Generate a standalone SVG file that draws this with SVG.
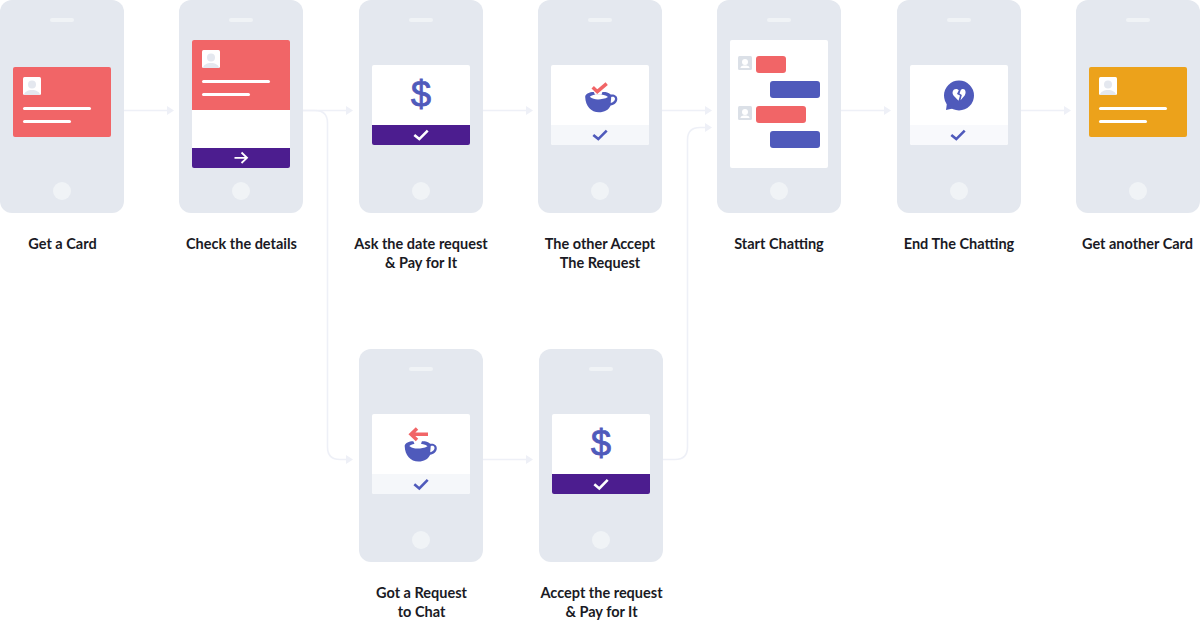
<svg xmlns="http://www.w3.org/2000/svg" width="1200" height="621" viewBox="0 0 1200 621">
<style>
.body{fill:#e4e8ef}.det{fill:#f0f3f6}.scr{fill:#fff}.red{fill:#f16567}.blue{fill:#4f5abb}.pur{fill:#4c1d8f}.lite{fill:#f5f7fa}.org{fill:#eca21b}
.bar{fill:#fff}.ck{fill:none;stroke:#4f5abb;stroke-width:2.6}.ckw{fill:none;stroke:#fff;stroke-width:2.6}.arw{fill:none;stroke:#fff;stroke-width:1.8}
.lbl{font-family:Lato,"Liberation Sans",sans-serif;font-size:14.5px;font-weight:700;fill:#1a1a24;text-anchor:middle}
.dol{font-family:"Liberation Sans",Arial,sans-serif;font-size:36px;font-weight:400;fill:#4f5abb;stroke:#4f5abb;stroke-width:.9;text-anchor:middle}
.con{fill:none;stroke:#eef0f7;stroke-width:1.6}
.rs{fill:none;stroke:#f16567;stroke-width:3.5}
</style>
<defs>
<marker id="ah" markerUnits="userSpaceOnUse" markerWidth="7" markerHeight="9" refX="0" refY="4.5" orient="auto"><path d="M0,0L7,4.5L0,9Z" fill="#eef0f7"/></marker>
<g id="phone"><rect class="body" width="124" height="213" rx="12"/><rect class="det" x="50" y="18" width="24" height="4" rx="2"/><circle class="det" cx="62" cy="191" r="9"/></g>
<g id="ava"><rect fill="#fff" width="18" height="18" rx="1.5"/><circle cx="9" cy="7.5" r="4" fill="#e4e8ef"/><path d="M1,18C1,15 5,13 9,13C13,13 17,15 17,18Z" fill="#e4e8ef"/></g>
<g id="ava2"><rect fill="#dbe0e7" width="14" height="14" rx="1.5"/><circle cx="7" cy="6" r="3" fill="#fff"/><path d="M2.5,12C2.5,10 5,9.5 7,9.5C9,9.5 11.5,10 11.5,12Z" fill="#fff"/></g>
<g id="cup"><path class="blue" d="M585.2,97C585.5,106 591,112.300 599,112.300C604.500,112.300 608.500,110 610.700,105.500C614,105 617.300,102.500 617.300,99C617.300,95.500 614,94 610.700,94.600C608.500,92.500 606,92 603.500,92L592,92C588,92.500 585.2,94.500 585.200,97Z"/><path fill="#fff" d="M589.800,96.800C591.500,95.200 594.500,94.600 598,94.600C602,94.600 606,95.200 608,97C605,98.800 601,99.400 598,99.400C595,99.400 592,98.800 589.800,96.800Z"/><path fill="#fff" d="M593,90L603,90L601.500,94.800L595,94.800Z"/><path fill="#fff" d="M611.200,97C612.500,96.300 615,96.500 615,98.800C615,100.800 612.500,102.700 610.700,103Z"/></g>
<path id="chk" d="M-6.7,0.2L-1.7,4.4L6.7,-4.1"/>
</defs>

<g id="connectors">
<path class="con" marker-end="url(#ah)" d="M124,110.500H167"/>
<path class="con" marker-end="url(#ah)" d="M303,110.500H346"/>
<path class="con" marker-end="url(#ah)" d="M483,110.500H526"/>
<path class="con" marker-end="url(#ah)" d="M662,110.500H705"/>
<path class="con" marker-end="url(#ah)" d="M841,110.500H884"/>
<path class="con" marker-end="url(#ah)" d="M1021,110.500H1064"/>
<path class="con" marker-end="url(#ah)" d="M483,459.500H526"/>
<path class="con" marker-end="url(#ah)" d="M303,110.500H315Q327.500,110.500 327.500,123V447Q327.500,459.500 340,459.500H346"/>
<path class="con" marker-end="url(#ah)" d="M663,459.500H675Q687.500,459.500 687.500,447V140Q687.500,127.500 700,127.500H705"/>
</g>

<g id="node-get-card">
<use href="#phone"/>
<rect class="red" x="13" y="67" width="98" height="70" rx="2"/>
<use href="#ava" x="23" y="77"/>
<rect class="bar" x="23" y="107" width="68" height="3" rx="1.5"/><rect class="bar" x="23" y="120" width="48" height="3" rx="1.5"/>
<text class="lbl" x="62.500" y="249">Get a Card</text>
</g>

<g id="node-check-details">
<use href="#phone" x="179"/>
<rect class="scr" x="192" y="40" width="98" height="128" rx="2"/>
<path class="red" d="M194,40H288A2,2 0 0 1 290,42V110H192V42A2,2 0 0 1 194,40Z"/>
<path class="pur" d="M192,148H290V166A2,2 0 0 1 288,168H194A2,2 0 0 1 192,166Z"/>
<use href="#ava" x="202" y="50"/>
<rect class="bar" x="202" y="80" width="68" height="3" rx="1.5"/><rect class="bar" x="202" y="93" width="48" height="3" rx="1.5"/>
<path class="arw" d="M234.500,157.800H247M241.500,152.500L247,157.800L241.500,163"/>
<text class="lbl" x="241.500" y="249">Check the details</text>
</g>

<g id="node-ask-date">
<use href="#phone" x="359"/>
<rect class="scr" x="372" y="65" width="98" height="80" rx="2"/>
<path class="pur" d="M372,125H470V143A2,2 0 0 1 468,145H374A2,2 0 0 1 372,143Z"/>
<text class="dol" x="421" y="107">$</text>
<use href="#chk" class="ckw" x="421" y="134.700"/>
<text class="lbl" x="421" y="249">Ask the date request</text>
<text class="lbl" x="421" y="268">&amp; Pay for It</text>
</g>

<g id="node-other-accept">
<use href="#phone" x="538"/>
<rect class="scr" x="551" y="65" width="98" height="80" rx="2"/>
<path class="lite" d="M551,125H649V143A2,2 0 0 1 647,145H553A2,2 0 0 1 551,143Z"/>
<use href="#cup"/>
<path class="rs" d="M592.700,87.300L597.300,91.700L606.700,83.700"/>
<use href="#chk" class="ck" x="600" y="134.700"/>
<text class="lbl" x="600" y="249">The other Accept</text>
<text class="lbl" x="600" y="268">The Request</text>
</g>

<g id="node-start-chatting">
<use href="#phone" x="717"/>
<rect class="scr" x="730" y="40" width="98" height="128" rx="2"/>
<use href="#ava2" x="738" y="56"/>
<rect class="red" x="756" y="56" width="30" height="17" rx="3"/>
<rect class="blue" x="770" y="81" width="50" height="17" rx="3"/>
<use href="#ava2" x="738" y="106"/>
<rect class="red" x="756" y="106" width="50" height="17" rx="3"/>
<rect class="blue" x="770" y="131" width="50" height="17" rx="3"/>
<text class="lbl" x="779" y="249">Start Chatting</text>
</g>

<g id="node-end-chatting">
<use href="#phone" x="897"/>
<rect class="scr" x="910" y="65" width="98" height="80" rx="2"/>
<path fill="#f8f9fc" d="M910,125H1008V143A2,2 0 0 1 1006,145H912A2,2 0 0 1 910,143Z"/>
<circle class="blue" cx="959" cy="95.500" r="15"/>
<path class="blue" d="M947,103L946,110L955,108Z"/>
<path fill="#fff" d="M958.500,100.700L953.500,95.500C951.500,92.500 953,89 956,89C957,89 958,89.500 958.800,90.300L957,94L960,95.500L958.500,100.700ZM960.500,100.300L961.800,95L959.500,93.500L960.800,90C961.500,89.300 962,89 963,89C965.500,89 966.500,92.500 964.700,95.500Z"/>
<use href="#chk" class="ck" x="958" y="134.700"/>
<text class="lbl" x="959" y="249">End The Chatting</text>
</g>

<g id="node-another-card">
<use href="#phone" x="1076"/>
<rect class="org" x="1089" y="67" width="98" height="70" rx="2"/>
<use href="#ava" x="1099" y="77"/>
<rect class="bar" x="1099" y="107" width="68" height="3" rx="1.5"/><rect class="bar" x="1099" y="120" width="48" height="3" rx="1.5"/>
<text class="lbl" x="1137.500" y="249">Get another Card</text>
</g>

<g id="node-got-request">
<use href="#phone" x="359" y="349"/>
<rect class="scr" x="372" y="414" width="98" height="80" rx="2"/>
<path class="lite" d="M372,474H470V492A2,2 0 0 1 468,494H374A2,2 0 0 1 372,492Z"/>
<use href="#cup" x="-180.500" y="349.200"/>
<path class="rs" d="M428,434.300H412M417,428.600L411,434.300L417,440"/>
<use href="#chk" class="ck" x="421" y="484"/>
<text class="lbl" x="421.500" y="598">Got a Request</text>
<text class="lbl" x="421.500" y="617">to Chat</text>
</g>

<g id="node-accept-pay">
<use href="#phone" x="539" y="349"/>
<rect class="scr" x="552" y="414" width="98" height="80" rx="2"/>
<path class="pur" d="M552,474H650V492A2,2 0 0 1 648,494H554A2,2 0 0 1 552,492Z"/>
<text class="dol" x="601" y="456">$</text>
<use href="#chk" class="ckw" x="601" y="484"/>
<text class="lbl" x="601.500" y="598">Accept the request</text>
<text class="lbl" x="601.500" y="617">&amp; Pay for It</text>
</g>
</svg>
